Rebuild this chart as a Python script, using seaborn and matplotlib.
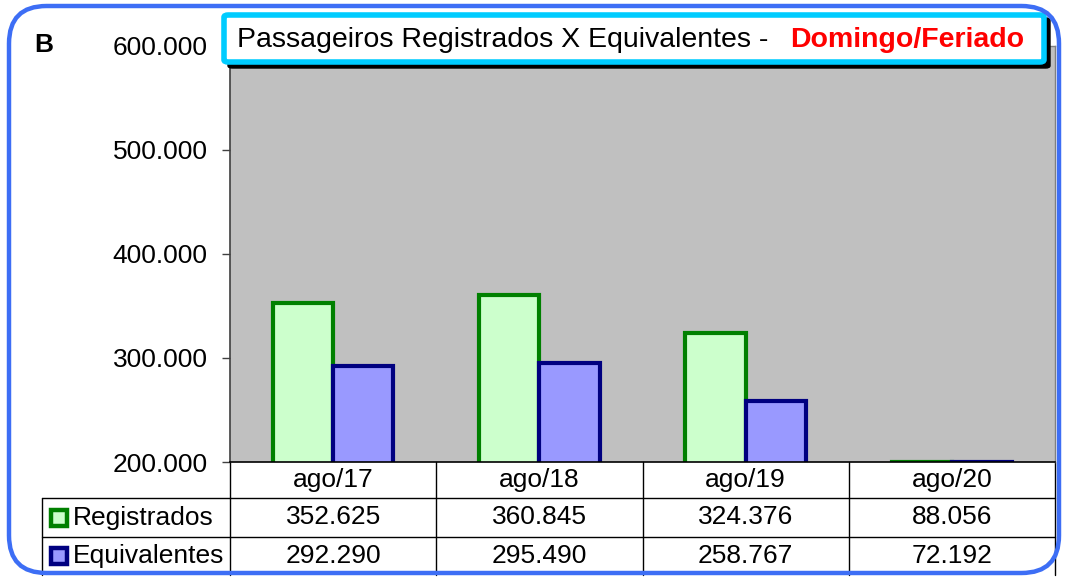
import numpy as np
import pandas as pd
import matplotlib
matplotlib.use("Agg")
import matplotlib.pyplot as plt
import matplotlib.transforms as mtransforms
from matplotlib.patches import FancyBboxPatch
import seaborn as sns

# dados
meses = ["ago/17", "ago/18", "ago/19", "ago/20"]
registrados = [352625, 360845, 324376, 88056]
equivalentes = [292290, 295490, 258767, 72192]
series = ["Registrados", "Equivalentes"]
y_ticks = [200000, 300000, 400000, 500000, 600000]

fills = ["#CCFFCC", "#9999FF"]
edges = ["#008000", "#000080"]

sns.set_style("white")
plt.rcParams["font.family"] = ["Liberation Sans", "DejaVu Sans"]
plt.rcParams["text.color"] = "black"
plt.rcParams["ytick.labelcolor"] = "black"

def fmt(v):
    return f"{v:,}".replace(",", ".")

ymin, ymax = y_ticks[0], y_ticks[-1]
fs = 19

df = pd.DataFrame({
    "mes": meses * 2,
    "serie": [series[0]] * 4 + [series[1]] * 4,
    "valor": registrados + equivalentes,
})
# Excel desenha barras abaixo do minimo do eixo achatadas na base
df["valor_plot"] = df["valor"].clip(lower=ymin)

W, H = 1072, 581
fig = plt.figure(figsize=(W / 100, H / 100), dpi=100)
ax = fig.add_axes([230 / W, 1 - 462 / H, 825 / W, 416 / H])
ax.set_facecolor("#C0C0C0")

sns.barplot(data=df, x="mes", y="valor_plot", hue="serie", order=meses,
            hue_order=series, palette=fills, saturation=1, width=0.585, gap=0,
            linewidth=3, legend=False, ax=ax)
for cont, ec in zip(ax.containers, edges):
    for bar in cont:
        bar.set_edgecolor(ec)
        bar.set_linewidth(3)

ax.set_ylim(ymin, ymax)
ax.set_xlim(-0.5, len(meses) - 0.5)
ax.set_yticks(y_ticks)
ax.set_yticklabels([fmt(v) for v in y_ticks], fontsize=fs)
ax.set_xticks([])
ax.set_xlabel("")
ax.set_ylabel("")
ax.tick_params(axis="y", left=True, length=6, width=1, color="#404040", pad=10)
for s in ["top", "right"]:
    ax.spines[s].set_color("#808080")
    ax.spines[s].set_linewidth(1)
ax.spines["left"].set_color("#404040")
ax.spines["left"].set_linewidth(1.2)
ax.spines["bottom"].set_color("black")
ax.spines["bottom"].set_linewidth(1.2)

# tabela de dados
tr = mtransforms.blended_transform_factory(ax.transData, ax.transAxes)
row_h = [-36 / 416, -75 / 416, -113 / 416]
tleft = (42 - 230) / 825
for i, m in enumerate(meses):
    ax.text(i, row_h[0] / 2, m, transform=tr, ha="center", va="center", fontsize=fs)
    ax.text(i, (row_h[0] + row_h[1]) / 2, fmt(registrados[i]), transform=tr,
            ha="center", va="center", fontsize=fs)
    ax.text(i, (row_h[1] + row_h[2]) / 2, fmt(equivalentes[i]), transform=tr,
            ha="center", va="center", fontsize=fs)
    ax.plot([i - 0.5, i - 0.5], [0, row_h[2]], transform=tr, color="black",
            lw=1, clip_on=False)
ax.plot([len(meses) - 0.5] * 2, [0, row_h[2]], transform=tr, color="black", lw=1, clip_on=False)
for yy in row_h[:2]:
    ax.plot([tleft, 1], [yy, yy], transform=ax.transAxes, color="black", lw=1, clip_on=False)
ax.plot([tleft, tleft], [row_h[0], row_h[2]], transform=ax.transAxes, color="black",
        lw=1, clip_on=False)
for k, nome in enumerate(series):
    yc = (row_h[k] + row_h[k + 1]) / 2
    ax.plot([tleft + 0.021], [yc], marker="s", ms=11, mfc=fills[k], mec=edges[k],
            mew=3.2, transform=ax.transAxes, clip_on=False)
    ax.text(tleft + 0.037, yc, nome, transform=ax.transAxes, ha="left", va="center",
            fontsize=fs)

# titulo com caixa
shadow = FancyBboxPatch((228 / W, 1 - 68 / H), 822 / W, 50 / H,
                        boxstyle="round,pad=0,rounding_size=0.004",
                        transform=fig.transFigure, facecolor="black", edgecolor="black", lw=1)
box = FancyBboxPatch((224 / W, 1 - 62 / H), 820 / W, 47 / H,
                     boxstyle="round,pad=0,rounding_size=0.004",
                     transform=fig.transFigure, facecolor="white", edgecolor="#00CCFF", lw=4)
fig.patches.extend([shadow, box])
fig.text(237 / W, 1 - 40 / H, "Passageiros Registrados X Equivalentes - ",
         ha="left", va="center", fontsize=20.5)
fig.text(1024 / W, 1 - 40 / H, "Domingo/Feriado", ha="right", va="center",
         fontsize=20.5, fontweight="bold", color="#FF0000")

fig.text(34 / W, 1 - 45 / H, "B", ha="left", va="center", fontsize=19, fontweight="bold")

frame = FancyBboxPatch((9 / W, 8 / H), 1050 / W, 567 / H,
                       boxstyle="round,pad=0,rounding_size=0.035",
                       transform=fig.transFigure, facecolor="none", edgecolor="#3D6EF5",
                       lw=3.2, mutation_aspect=W / H)
fig.patches.append(frame)

fig.savefig("out.png", dpi=100)
